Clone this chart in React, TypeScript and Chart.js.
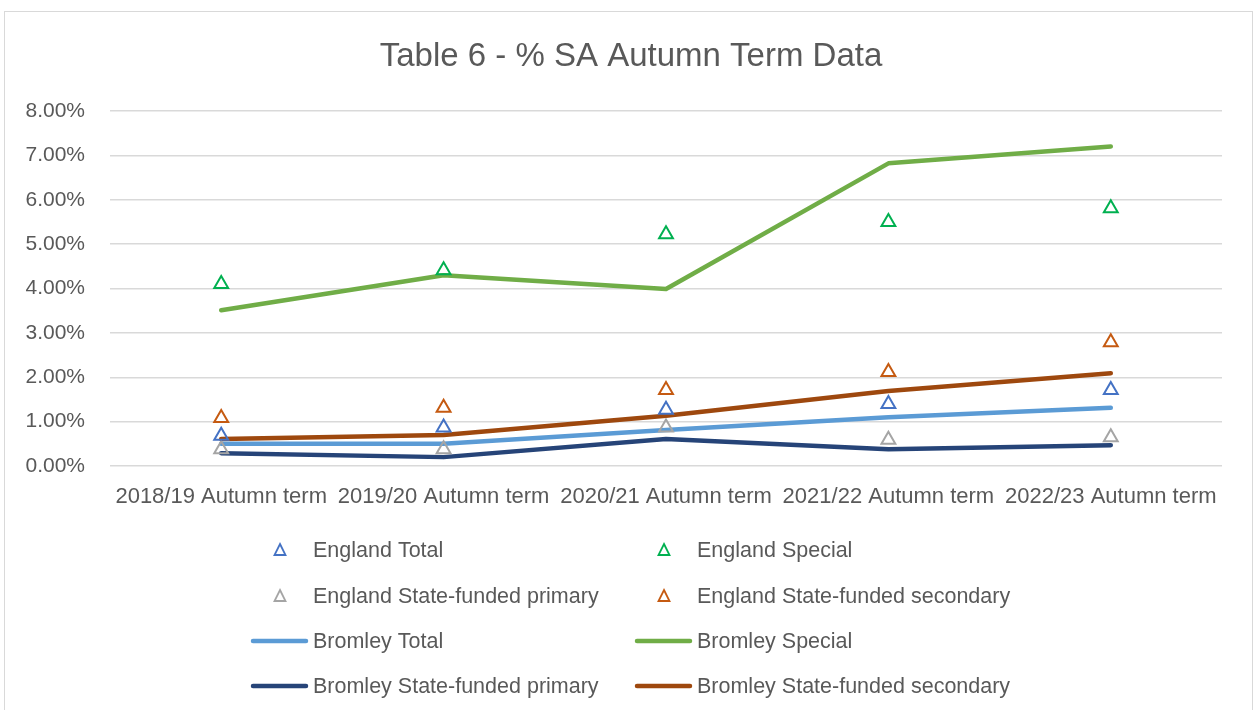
import React, { useEffect, useRef } from "react";
import { Chart, registerables } from "chart.js";

Chart.register(...registerables);

const categories = [
  "2018/19 Autumn term",
  "2019/20 Autumn term",
  "2020/21 Autumn term",
  "2021/22 Autumn term",
  "2022/23 Autumn term",
];

const englandTotal = [0.68, 0.87, 1.27, 1.4, 1.71];
const englandSpecial = [4.1, 4.41, 5.22, 5.5, 5.81];
const englandPrimary = [0.38, 0.38, 0.87, 0.59, 0.65];
const englandSecondary = [1.08, 1.31, 1.71, 2.12, 2.79];
const bromleyTotal = [0.5, 0.5, 0.81, 1.1, 1.31];
const bromleySpecial = [3.51, 4.3, 3.99, 6.82, 7.2];
const bromleyPrimary = [0.29, 0.2, 0.61, 0.38, 0.47];
const bromleySecondary = [0.61, 0.7, 1.13, 1.69, 2.09];

const yTicks = [0, 1, 2, 3, 4, 5, 6, 7, 8];

const FONT = "'Liberation Sans', Arial, sans-serif";
const TEXT = "#595959";

type Item = { label: string; color: string; kind: "tri" | "line" };

const legendItems: Item[] = [
  { label: "England Total", color: "#4472C4", kind: "tri" },
  { label: "England Special", color: "#00B050", kind: "tri" },
  { label: "England State-funded primary", color: "#A5A5A5", kind: "tri" },
  { label: "England State-funded secondary", color: "#C55A11", kind: "tri" },
  { label: "Bromley Total", color: "#5B9BD5", kind: "line" },
  { label: "Bromley Special", color: "#70AD47", kind: "line" },
  { label: "Bromley State-funded primary", color: "#264478", kind: "line" },
  { label: "Bromley State-funded secondary", color: "#9E480E", kind: "line" },
];

const customPlugin = {
  id: "customDecor",
  afterDraw(chart: any) {
    const ctx = chart.ctx as CanvasRenderingContext2D;
    ctx.save();
    // title
    ctx.fillStyle = TEXT;
    ctx.font = `33px ${FONT}`;
    ctx.textAlign = "center";
    ctx.textBaseline = "middle";
    ctx.fillText("Table 6 - % SA Autumn Term Data", 631, 57);
    // legend
    const colMarker = [280, 664];
    const colText = [313, 697];
    const rows = [550, 596, 641, 686];
    ctx.font = `21.5px ${FONT}`;
    ctx.textAlign = "left";
    legendItems.forEach((it, i) => {
      const col = i % 2;
      const row = Math.floor(i / 2);
      const y = rows[row];
      const mx = colMarker[col];
      if (it.kind === "tri") {
        ctx.strokeStyle = it.color;
        ctx.lineWidth = 1.8;
        ctx.beginPath();
        ctx.moveTo(mx, y - 6);
        ctx.lineTo(mx + 5.5, y + 5);
        ctx.lineTo(mx - 5.5, y + 5);
        ctx.closePath();
        ctx.stroke();
      } else {
        ctx.strokeStyle = it.color;
        ctx.lineWidth = 4.5;
        ctx.lineCap = "round";
        ctx.beginPath();
        ctx.moveTo(mx - 27, y);
        ctx.lineTo(mx + 26, y);
        ctx.stroke();
      }
      ctx.fillStyle = TEXT;
      ctx.fillText(it.label, colText[col], y + 1);
    });
    ctx.restore();
  },
};

function triDataset(label: string, data: number[], color: string) {
  return {
    label,
    data,
    showLine: false,
    borderColor: color,
    backgroundColor: "transparent",
    pointStyle: "triangle",
    pointRadius: 8,
    pointBorderWidth: 2,
    pointBorderColor: color,
    pointBackgroundColor: "rgba(0,0,0,0)",
  };
}

function lineDataset(label: string, data: number[], color: string) {
  return {
    label,
    data,
    borderColor: color,
    backgroundColor: color,
    borderWidth: 4.5,
    pointRadius: 0,
    tension: 0,
    borderCapStyle: "round",
    borderJoinStyle: "round",
  };
}

export default function App() {
  const ref = useRef<HTMLCanvasElement | null>(null);
  useEffect(() => {
    if (!ref.current) return;
    const chart = new Chart(ref.current, {
      type: "line",
      data: {
        labels: categories,
        datasets: [
          triDataset("England Total", englandTotal, "#4472C4"),
          triDataset("England Special", englandSpecial, "#00B050"),
          triDataset("England State-funded primary", englandPrimary, "#A5A5A5"),
          triDataset("England State-funded secondary", englandSecondary, "#C55A11"),
          lineDataset("Bromley Total", bromleyTotal, "#5B9BD5"),
          lineDataset("Bromley Special", bromleySpecial, "#70AD47"),
          lineDataset("Bromley State-funded primary", bromleyPrimary, "#264478"),
          lineDataset("Bromley State-funded secondary", bromleySecondary, "#9E480E"),
        ] as any,
      },
      options: {
        animation: false,
        responsive: false,
        layout: { padding: { left: 0, top: 111, right: 35, bottom: 194 } },
        plugins: {
          legend: { display: false },
          title: { display: false },
          tooltip: { enabled: false },
        },
        scales: {
          x: {
            offset: true,
            grid: { display: false, drawTicks: false },
            border: { display: false },
            ticks: {
              color: TEXT,
              font: { family: FONT, size: 22 },
              padding: 18,
              maxRotation: 0,
              autoSkip: false,
            },
            afterFit: (s: any) => {
              s.height = 50;
            },
          },
          y: {
            min: 0,
            max: 8,
            afterBuildTicks: (s: any) => {
              s.ticks = yTicks.map((v) => ({ value: v }));
            },
            grid: { color: "#d9d9d9", lineWidth: 1.5, drawTicks: false },
            border: { display: false },
            ticks: {
              color: TEXT,
              font: { family: FONT, size: 21 },
              padding: 25,
              callback: (v: any) => `${Number(v).toFixed(2)}%`,
            },
            afterFit: (s: any) => {
              s.width = 110;
            },
          },
        },
      },
      plugins: [customPlugin],
    });
    return () => chart.destroy();
  }, []);
  return (
    <div style={{ position: "absolute", left: 0, top: 0, width: 1257, height: 710, background: "#fff", overflow: "hidden" }}>
      <div style={{ position: "absolute", left: 4, top: 11, width: 1247, height: 720, border: "1px solid #d9d9d9" }} />
      <canvas ref={ref} width={1257} height={710} style={{ position: "absolute", left: 0, top: 0 }} />
    </div>
  );
}
